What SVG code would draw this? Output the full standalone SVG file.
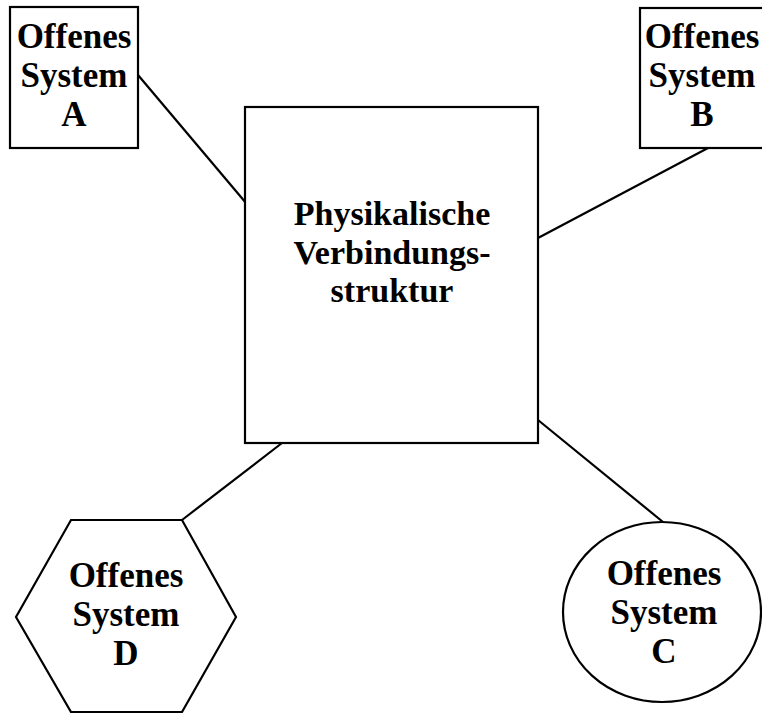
<svg xmlns="http://www.w3.org/2000/svg" width="762" height="713" viewBox="0 0 762 713">
<style>
.shape{fill:#fff;stroke:#000;stroke-width:2.2}
.conn line{stroke:#000;stroke-width:2.2}
text{font-family:"Liberation Serif","Times New Roman",serif;font-weight:bold;font-size:35px;text-anchor:middle;fill:#000}
.big{font-size:34px}
</style>
<rect width="762" height="713" fill="#fff"/>
<g id="connectors" class="conn">
<line x1="138" y1="75" x2="246" y2="203"/>
<line x1="708" y1="148" x2="538" y2="238"/>
<line x1="282" y1="443" x2="182" y2="520"/>
<line x1="538" y1="420" x2="663" y2="522"/>
</g>
<g id="center">
<rect class="shape" x="245" y="107" width="293" height="336"/>
<text class="big" x="392" y="225">Physikalische</text>
<text class="big" x="392" y="264">Verbindungs-</text>
<text class="big" x="392" y="302">struktur</text>
</g>
<g id="systemA">
<rect class="shape" x="10" y="7" width="128" height="141"/>
<text x="74" y="48">Offenes</text>
<text x="74" y="87">System</text>
<text x="74" y="126">A</text>
</g>
<g id="systemB">
<rect class="shape" x="640" y="8" width="130" height="140"/>
<text x="702" y="48">Offenes</text>
<text x="702" y="87">System</text>
<text x="702" y="126">B</text>
</g>
<g id="systemD">
<polygon class="shape" points="71,520 182,520 236,617 182,712 71,712 16,617"/>
<text x="126" y="587">Offenes</text>
<text x="126" y="626">System</text>
<text x="126" y="665">D</text>
</g>
<g id="systemC">
<ellipse class="shape" cx="662" cy="612" rx="99" ry="90"/>
<text x="664" y="585">Offenes</text>
<text x="664" y="624">System</text>
<text x="664" y="663">C</text>
</g>
</svg>
